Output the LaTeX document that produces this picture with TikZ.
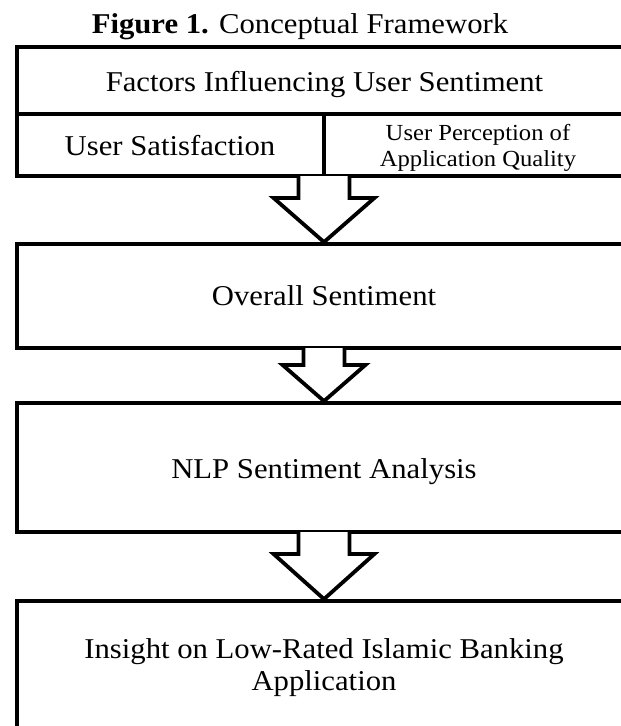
\documentclass[tikz,border=0pt]{standalone}
\usepackage{fontspec}
\setmainfont{Liberation Serif}[FakeStretch=1.07]
\usetikzlibrary{calc}
\newcommand\blockarr[5]{%
  \fill[white] ($(#1.south)+(-#3,-1.9)$) -- ($(#1.south)+(-#3,#5)$) -- ($(#1.south)+(-#4,#5)$) -- (#2.north)
     -- ($(#1.south)+(#4,#5)$) -- ($(#1.south)+(#3,#5)$) -- ($(#1.south)+(#3,-1.9)$) -- cycle;
  \draw[blk] ($(#1.south)+(-#3,-1.9)$) -- ($(#1.south)+(-#3,#5)$) -- ($(#1.south)+(-#4,#5)$) -- (#2.north)
     -- ($(#1.south)+(#4,#5)$) -- ($(#1.south)+(#3,#5)$) -- ($(#1.south)+(#3,-1.9)$);}
\begin{document}
\begin{tikzpicture}[x=1pt,y=-1pt,
  box/.style={draw, line width=3.8pt, rectangle, inner sep=0pt, minimum width=614pt},
  lbl/.style={font=\fontsize{28.7}{32}\selectfont, inner sep=0pt, anchor=base, align=center},
  small/.style={font=\fontsize{23}{26}\selectfont, inner sep=0pt, anchor=base, align=center},
  blk/.style={line width=3.8pt, line join=miter}]
\clip (0,0) rectangle (621,726);
\fill[white] (0,0) rectangle (621,726);
% boxes
\node[box, minimum height=129pt] (b1) at (324,111.5) {};
\node[box, minimum height=104pt] (b2) at (324,296) {};
\node[box, minimum height=129pt] (b3) at (324,467.5) {};
\node[box, minimum height=129pt] (b4) at (324,665.5) {};
% dividers in first box
\draw[blk] ($(b1.north west)+(0,69)$) -- ($(b1.north east)+(0,69)$);
\draw[blk] ($(b1.north)+(0,69)$) -- (b1.south);
% block arrows
\blockarr{b1}{b2}{25.5}{50.5}{20}
\blockarr{b2}{b3}{20.5}{41.5}{15}
\blockarr{b3}{b4}{25.5}{50.5}{20}
% texts (base = baseline of the last line)
\node[lbl] (title) at (300,33) {\textbf{Figure 1.} Conceptual Framework};
\node[lbl] (t1) at (324.5,91) {Factors Influencing User Sentiment};
\node[lbl] (t2) at (170,155) {User Satisfaction};
\node[small] (t3) at (478,166) {User Perception of\\Application Quality};
\node[lbl] (t4) at (324,305) {Overall Sentiment};
\node[lbl] (t5) at (324,478) {NLP Sentiment Analysis};
\node[lbl] (t6) at (324,690) {Insight on Low-Rated Islamic Banking\\Application};
\end{tikzpicture}
\end{document}
